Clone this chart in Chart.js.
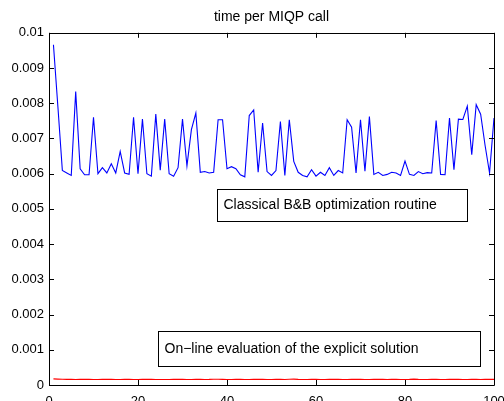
<!DOCTYPE html>
<html>
<head>
<meta charset="utf-8">
<script src="https://cdn.jsdelivr.net/npm/chart.js@4/dist/chart.umd.min.js"></script>
<style>
  html, body { margin: 0; padding: 0; background: #fff; }
  canvas { display: block; }
</style>
</head>
<body>
<canvas id="chart" width="504" height="401"></canvas>
<script>
// time per MIQP call, seconds
const bbTimes = [
    0.00966, 0.00790, 0.00609, 0.00602, 0.00595, 0.00833, 0.00614, 0.00597, 0.00597, 0.00760,
    0.00600, 0.00617, 0.00602, 0.00628, 0.00602, 0.00663, 0.00602, 0.00598, 0.00760, 0.00600,
    0.00755, 0.00600, 0.00593, 0.00769, 0.00610, 0.00755, 0.00600, 0.00593, 0.00617, 0.00755,
    0.00622, 0.00725, 0.00772, 0.00604, 0.00606, 0.00602, 0.00604, 0.00753, 0.00753, 0.00614,
    0.00620, 0.00614, 0.00597, 0.00591, 0.00765, 0.00781, 0.00604, 0.00744, 0.00606, 0.00595,
    0.00609, 0.00748, 0.00595, 0.00753, 0.00635, 0.00604, 0.00595, 0.00591, 0.00611, 0.00593,
    0.00604, 0.00595, 0.00617, 0.00595, 0.00609, 0.00602, 0.00753, 0.00732, 0.00602, 0.00753,
    0.00607, 0.00762, 0.00598, 0.00604, 0.00595, 0.00598, 0.00604, 0.00602, 0.00595, 0.00636,
    0.00598, 0.00595, 0.00606, 0.00600, 0.00603, 0.00602, 0.00751, 0.00598, 0.00597, 0.00758,
    0.00611, 0.00755, 0.00754, 0.00792, 0.00654, 0.00796, 0.00769, 0.00680, 0.00602, 0.00758
];
const explicitTimes = [
    0.000175, 0.000168, 0.000163, 0.000160, 0.000160, 0.000158, 0.000160, 0.000162, 0.000160, 0.000158,
    0.000158, 0.000160, 0.000162, 0.000160, 0.000158, 0.000158, 0.000160, 0.000160, 0.000158, 0.000158,
    0.000160, 0.000162, 0.000160, 0.000158, 0.000158, 0.000156, 0.000158, 0.000160, 0.000162, 0.000160,
    0.000158, 0.000158, 0.000160, 0.000160, 0.000158, 0.000160, 0.000165, 0.000162, 0.000160, 0.000158,
    0.000158, 0.000160, 0.000160, 0.000158, 0.000158, 0.000160, 0.000162, 0.000160, 0.000158, 0.000158,
    0.000160, 0.000160, 0.000158, 0.000162, 0.000166, 0.000160, 0.000158, 0.000158, 0.000160, 0.000160,
    0.000158, 0.000158, 0.000160, 0.000162, 0.000160, 0.000158, 0.000158, 0.000160, 0.000164, 0.000160,
    0.000158, 0.000158, 0.000160, 0.000162, 0.000160, 0.000158, 0.000160, 0.000160, 0.000158, 0.000158,
    0.000160, 0.000166, 0.000160, 0.000158, 0.000158, 0.000160, 0.000160, 0.000158, 0.000158, 0.000160,
    0.000162, 0.000160, 0.000158, 0.000158, 0.000160, 0.000160, 0.000158, 0.000160, 0.000160, 0.000160
];
const callIndex = bbTimes.map((v, i) => i + 1);

const xTickLabels = ['0', '20', '40', '60', '80', '100'];
const yTickLabels = ['0', '0.001', '0.002', '0.003', '0.004', '0.005', '0.006', '0.007', '0.008', '0.009', '0.01'];

const noteTexts = ['Classical B&B optimization routine', 'On\u2212line evaluation of the explicit solution'];

// text boxes, in axis units: [xLeft, xRight, yTop, yBottom]
const noteBoxes = [
    [37.8, 94.0, 0.00556, 0.00465],
    [24.5, 96.9, 0.00153, 0.00054]
];

const FONT = "'Liberation Sans', Arial, Helvetica, sans-serif";

const matlabFrame = {
    id: 'matlabFrame',
    afterDraw(chart) {
        const c = chart.ctx;
        const a = chart.chartArea;
        const xs = chart.scales.x;
        const ys = chart.scales.y;
        const tl = 5;
        c.save();
        c.strokeStyle = '#000';
        c.lineWidth = 1;
        c.beginPath();
        c.rect(Math.round(a.left) + 0.5, Math.round(a.top) + 0.5,
               Math.round(a.right - a.left), Math.round(a.bottom - a.top));
        xs.ticks.forEach(t => {
            const px = Math.round(xs.getPixelForValue(t.value)) + 0.5;
            c.moveTo(px, a.bottom); c.lineTo(px, a.bottom - tl);
            c.moveTo(px, a.top); c.lineTo(px, a.top + tl);
        });
        ys.ticks.forEach(t => {
            const py = Math.round(ys.getPixelForValue(t.value)) + 0.5;
            c.moveTo(a.left, py); c.lineTo(a.left + tl, py);
            c.moveTo(a.right, py); c.lineTo(a.right - tl, py);
        });
        c.stroke();

        // annotation boxes
        c.font = '14px ' + FONT;
        c.fillStyle = '#000';
        c.textBaseline = 'middle';
        noteBoxes.forEach((b, i) => {
            const l = Math.round(xs.getPixelForValue(b[0])) + 0.5;
            const r = Math.round(xs.getPixelForValue(b[1])) + 0.5;
            const t = Math.round(ys.getPixelForValue(b[2])) + 0.5;
            const bt = Math.round(ys.getPixelForValue(b[3])) + 0.5;
            c.strokeRect(l, t, r - l, bt - t);
            c.fillText(noteTexts[i], l + 6, (t + bt) / 2);
        });
        c.restore();
    }
};

const ctx = document.getElementById('chart');
const timeChart = new Chart(ctx, {
    type: 'line',
    data: {
        datasets: [{
            label: 'B&B',
            data: callIndex.map((n, i) => ({x: n, y: bbTimes[i]})),
            borderColor: '#0000ff',
            borderWidth: 1.1,
            pointRadius: 0,
            fill: false,
            tension: 0
        }, {
            label: 'explicit',
            data: callIndex.map((n, i) => ({x: n, y: explicitTimes[i]})),
            borderColor: '#ff0000',
            borderWidth: 1.1,
            pointRadius: 0,
            fill: false,
            tension: 0
        }]
    },
    options: {
        responsive: false,
        animation: false,
        devicePixelRatio: 1,
        layout: { padding: { left: 0, right: 10, top: 0, bottom: 0 } },
        plugins: {
            legend: { display: false },
            tooltip: { enabled: false },
            title: {
                display: true,
                text: 'time per MIQP call',
                color: '#000',
                fullSize: false,
                font: { family: FONT, size: 14, weight: 'normal' },
                padding: { top: 9, bottom: 7 }
            }
        },
        scales: {
            x: {
                type: 'linear',
                min: 0,
                max: 100,
                grid: { display: false, drawTicks: false },
                border: { display: false },
                ticks: {
                    stepSize: 20,
                    color: '#000',
                    padding: 9,
                    maxRotation: 0,
                    font: { family: FONT, size: 13 },
                    callback: (v, i) => xTickLabels[i]
                },
                afterFit(s) {
                    s.paddingLeft = 0;
                    s.paddingRight = 0;
                    s.height = 16;
                }
            },
            y: {
                min: 0,
                max: 0.01,
                grid: { display: false, drawTicks: false },
                border: { display: false },
                ticks: {
                    stepSize: 0.001,
                    color: '#000',
                    padding: 5,
                    font: { family: FONT, size: 13 },
                    callback: (v, i) => yTickLabels[i]
                },
                afterFit(s) {
                    s.paddingTop = 0;
                    s.paddingBottom = 0;
                    s.width = 49;
                }
            }
        }
    },
    plugins: [matlabFrame]
});
</script>
</body>
</html>
